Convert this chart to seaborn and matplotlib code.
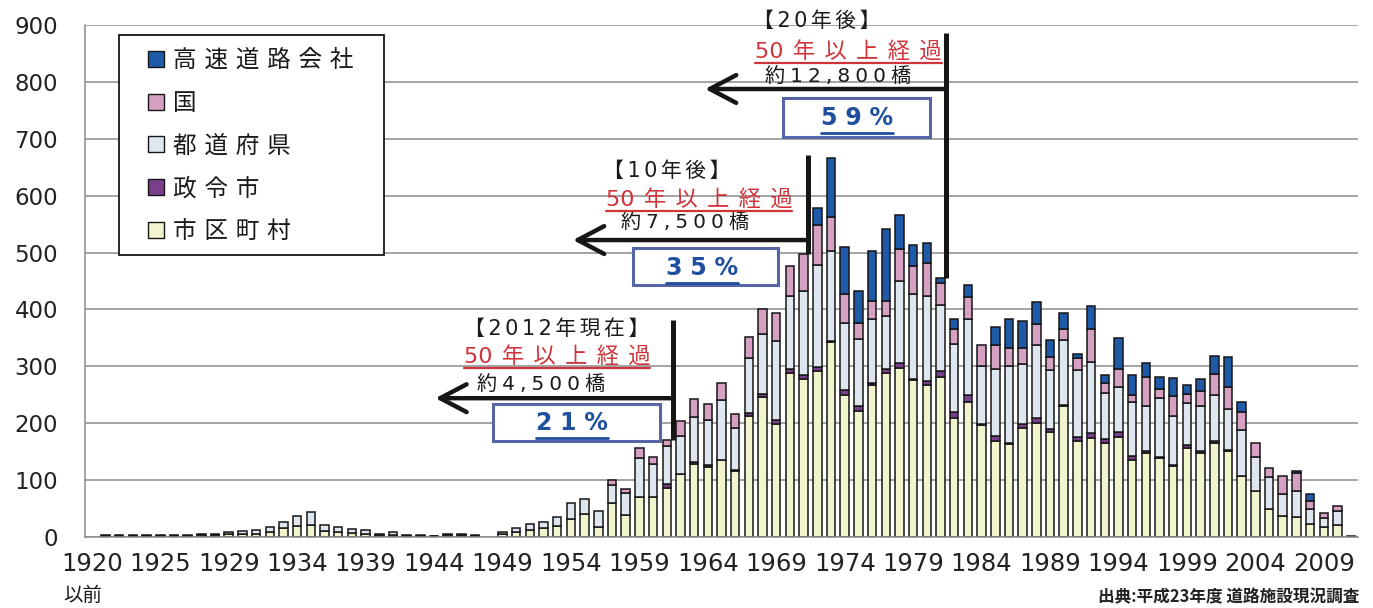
import numpy as np
import pandas as pd
import matplotlib
matplotlib.use("Agg")
import matplotlib.pyplot as plt
import seaborn as sns
from matplotlib.patches import Patch, Rectangle
from matplotlib.lines import Line2D

# ---------------- data (bridges per construction year) ----------------
series = ["高速道路会社", "国", "都道府県", "政令市", "市区町村"]

tick_labels = ["1920\n以前", "1925", "1929", "1934", "1939", "1944", "1949", "1954",
               "1959", "1964", "1969", "1974", "1979", "1984", "1989", "1994",
               "1999", "2004", "2009"]

municipal = [0, 2, 2, 2, 2, 2, 2, 2, 3, 3,
             5, 5, 6, 9, 15, 19, 21, 11, 9, 7,
             6, 3, 4, 2, 2, 1, 3, 3, 2, 0,
             5, 9, 13, 15, 20, 32, 40, 18, 59, 38,
             71, 71, 87, 110, 128, 123, 135, 116, 212, 246,
             198, 289, 278, 292, 343, 249, 222, 268, 288, 297,
             276, 267, 282, 209, 238, 197, 168, 164, 191, 200,
             184, 231, 169, 174, 166, 175, 135, 147, 138, 125,
             157, 147, 165, 152, 108, 80, 49, 37, 35, 22,
             17, 21, 2]

designated = [0, 0, 0, 0, 0, 0, 0, 0, 0, 0,
              0, 0, 0, 0, 0, 0, 0, 0, 0, 0,
              0, 0, 0, 0, 0, 0, 0, 0, 0, 0,
              0, 0, 0, 0, 0, 0, 0, 0, 0, 0,
              0, 0, 7, 1, 4, 3, 1, 1, 6, 6,
              7, 6, 6, 6, 2, 9, 8, 2, 7, 8,
              2, 8, 9, 11, 11, 2, 9, 2, 8, 9,
              6, 1, 6, 8, 7, 9, 8, 5, 2, 2,
              5, 5, 4, 1, 0, 0, 0, 0, 0, 0,
              0, 0, 0]

prefecture = [0, 1, 1, 1, 1, 1, 1, 1, 3, 2,
              4, 5, 6, 9, 12, 18, 23, 10, 9, 7,
              6, 3, 4, 2, 2, 1, 3, 3, 2, 0,
              4, 6, 9, 11, 16, 28, 27, 28, 32, 40,
              68, 58, 66, 66, 79, 80, 104, 74, 96, 105,
              139, 129, 148, 181, 158, 119, 118, 113, 93, 145,
              150, 148, 116, 119, 134, 101, 118, 134, 105, 128,
              104, 114, 118, 125, 80, 79, 95, 79, 104, 86,
              73, 79, 81, 72, 80, 60, 56, 38, 46, 27,
              17, 24, 0]

national = [0, 0, 0, 0, 0, 0, 0, 0, 0, 0,
            0, 0, 0, 0, 0, 0, 0, 0, 0, 0,
            0, 0, 0, 0, 0, 0, 0, 0, 0, 0,
            0, 0, 0, 0, 0, 0, 0, 0, 9, 7,
            18, 11, 11, 27, 31, 28, 31, 25, 37, 43,
            49, 53, 65, 69, 59, 50, 29, 32, 27, 57,
            49, 59, 39, 26, 38, 38, 42, 32, 28, 38,
            22, 20, 21, 59, 17, 32, 12, 50, 16, 35,
            16, 25, 37, 39, 31, 26, 16, 33, 31, 15,
            9, 10, 0]

expressway = [0, 0, 0, 0, 0, 0, 0, 0, 0, 0,
              0, 0, 0, 0, 0, 0, 0, 0, 0, 0,
              0, 0, 0, 0, 0, 0, 0, 0, 0, 0,
              0, 0, 0, 0, 0, 0, 0, 0, 0, 0,
              0, 0, 0, 0, 0, 0, 0, 0, 0, 0,
              0, 0, 0, 31, 104, 83, 55, 87, 127, 59,
              36, 34, 10, 18, 22, 0, 32, 52, 47, 38,
              31, 27, 8, 40, 15, 55, 34, 25, 21, 32,
              16, 22, 32, 53, 18, 0, 0, 0, 4, 12,
              0, 0, 0]

# annotation texts
ann_heads = ["【2012年現在】", "【10年後】", "【20年後】"]
ann_counts = ["約4,500橋", "約7,500橋", "約12,800橋"]
ann_pcts = ["21%", "35%", "59%"]
ann_sub = "50年以上経過"
source_text = "出典:平成23年度 道路施設現況調査"

# ---------------- styling ----------------
palette = {"高速道路会社": "#1f5aa8", "国": "#d6a0c2", "都道府県": "#dee7ef",
           "政令市": "#7a3f8c", "市区町村": "#f1f4cc"}
values = {"高速道路会社": expressway, "国": national, "都道府県": prefecture,
          "政令市": designated, "市区町村": municipal}

n = len(municipal)
pos = np.arange(n)
df = pd.DataFrame({
    "pos": np.tile(pos, len(series)),
    "kind": np.repeat(series, n),
    "bridges": np.concatenate([values[s] for s in series]),
})
totals = np.sum([values[s] for s in series], axis=0)

sns.set_theme(style="white")
plt.rcParams["font.family"] = ["DejaVu Sans", "Noto Sans CJK JP"]
JP = ["Noto Sans CJK JP", "DejaVu Sans"]
MIX = ["DejaVu Sans", "Noto Sans CJK JP"]
GRAY = "#8c8c8c"
INK = "#161616"


def spaced(s, sp="\u2005", pair_sp=None):
    """Insert letter spacing; pair_sp is used between two ASCII characters."""
    out = s[0]
    for a, b in zip(s[:-1], s[1:]):
        if pair_sp is not None and a.isascii() and b.isascii():
            out += pair_sp + b
        else:
            out += sp + b
    return out


W, H = 1373, 608
fig = plt.figure(figsize=(W / 100, H / 100), dpi=100)
fig.patch.set_facecolor("white")
ax = fig.add_axes([85 / W, 71 / H, 1273 / W, 512 / H])

sns.histplot(data=df, x="pos", weights="bridges", hue="kind", hue_order=series,
             multiple="stack", discrete=True, shrink=0.62, palette=palette,
             edgecolor=INK, linewidth=1.1, alpha=1, legend=False, ax=ax)
for p in list(ax.patches):
    if p.get_height() <= 0:
        p.set_visible(False)

ax.set_xlim(-0.5, n - 0.5)
ax.set_ylim(0, 900)
ax.set_yticks(np.arange(0, 901, 100))
ax.set_xticks(pos[::5])
ax.set_xticklabels([t.split("\n")[0] for t in tick_labels])
ax.set_xticks(np.arange(-0.5, n, 1), minor=True)
ax.set_xlabel("")
ax.set_ylabel("")
ax.tick_params(axis="x", which="major", length=0, pad=11, labelsize=17.5, labelcolor="#222222")
ax.tick_params(axis="x", which="minor", length=5, width=1.1, color=GRAY, direction="out")
ax.tick_params(axis="y", length=6.5, width=1.1, color=GRAY, pad=13, labelsize=16.5,
               labelcolor="#222222")
ax.grid(axis="y", color=GRAY, lw=1.1)
ax.grid(axis="x", visible=False)
ax.set_axisbelow(True)
for side in ["top", "right"]:
    ax.spines[side].set_visible(False)
for side in ["left", "bottom"]:
    ax.spines[side].set_color(GRAY)
    ax.spines[side].set_linewidth(1.1)

# second line of first tick label
fig.text(63 / W, 1 - 595 / H, tick_labels[0].split("\n")[1], ha="left", va="center",
         fontsize=14, family=JP, color="#1a1a1a")

# ---------------- legend ----------------
handles = [Patch(facecolor=palette[s], edgecolor=INK, linewidth=1.0, label=spaced(s, "\u2004"))
           for s in series]
leg = ax.legend(handles=handles, loc="upper left", bbox_to_anchor=(148 / W, 1 - 49 / H),
                bbox_transform=fig.transFigure, frameon=False, prop=dict(family=JP, size=17),
                handlelength=0.66, handleheight=0.66, handletextpad=0.4, labelspacing=0.84,
                borderpad=0, borderaxespad=0)
for t in leg.get_texts():
    t.set_color("#1a1a1a")
frame = Rectangle((119 / W, 1 - 255 / H), 265 / W, 220 / H, transform=fig.transFigure,
                  facecolor="white", edgecolor=INK, lw=1.3, zorder=4.5)
ax.add_artist(frame)
frame.set_clip_on(False)

# ---------------- annotations ----------------
groups = [
    dict(bar=42, xl=42.47, ytop=381, yarr=244, xarr=25.1, xh=33.98, yh=365.6, ys=316,
         xc=32.8, yc=267, box=(29.3, 168.7, 41.5, 233.8), xp=35.07, yp=200),
    dict(bar=52, xl=52.35, ytop=671, yarr=522, xarr=35.15, xh=42.0, yh=643, ys=592,
         xc=43.3, yc=552, box=(39.53, 443, 50.12, 508), xp=44.6, yp=473),
    dict(bar=62, xl=62.4, ytop=886, yarr=787.5, xarr=44.8, xh=52.97, yh=907, ys=852.5,
         xc=54.5, yc=808.6, box=(50.49, 703.1, 61.22, 771.7), xp=55.9, yp=736.5),
]
sub_xs = [33.98, 44.35, 55.3]
underline = []
for i, g in enumerate(groups):
    ax.plot([g["xl"], g["xl"]], [totals[g["bar"]], g["ytop"]], color=INK, lw=3.6,
            solid_capstyle="butt", zorder=6, clip_on=False)
    ax.annotate("", xy=(g["xarr"], g["yarr"]), xytext=(g["xl"], g["yarr"]),
                arrowprops=dict(arrowstyle="->,head_length=0.95,head_width=0.5", lw=3.2,
                                color=INK, shrinkA=0, shrinkB=0, mutation_scale=20),
                zorder=6)
    x0, y0, x1, y1 = g["box"]
    ax.add_patch(Rectangle((x0, y0), x1 - x0, y1 - y0, facecolor="white",
                           edgecolor="#5565a6", lw=2.2, zorder=5))
    ax.text(g["xh"], g["yh"], spaced(ann_heads[i], "\u2006"), ha="center", va="center",
            fontsize=15, family=MIX, color="#1a1a1a", zorder=7, clip_on=False)
    ts = ax.text(sub_xs[i], g["ys"], spaced(ann_sub, "\u2005\u2006", ""), ha="center",
                 va="center", fontsize=16, family=MIX, color="#d0343a", zorder=7,
                 clip_on=False)
    ax.text(g["xc"], g["yc"], spaced(ann_counts[i], "\u2005"), ha="center", va="center",
            fontsize=14.5, family=MIX, color="#1a1a1a", zorder=7)
    tp = ax.text(g["xp"], g["yp"], spaced(ann_pcts[i], "\u2004"), ha="center", va="center",
                 fontsize=17, fontweight="bold", family="DejaVu Sans", color="#1f4f9f",
                 zorder=7)
    underline.append((ts, "#d0343a", 1.6, 0))
    underline.append((tp, "#1f4f9f", 2.0, 3))

fig.text(1359 / W, 1 - 597 / H, source_text, ha="right", va="center", fontsize=12,
         fontweight="bold", family=JP, color="#222222")

fig.canvas.draw()
r = fig.canvas.get_renderer()
inv = fig.transFigure.inverted()
for t, col, lw, off in underline:
    bb = t.get_window_extent(r)
    (ux0, uy), (ux1, _) = inv.transform([(bb.x0, bb.y0 - off), (bb.x1, bb.y0)])
    fig.add_artist(Line2D([ux0, ux1], [uy, uy], transform=fig.transFigure, color=col, lw=lw))

fig.savefig("out.png", dpi=100, facecolor="white")
